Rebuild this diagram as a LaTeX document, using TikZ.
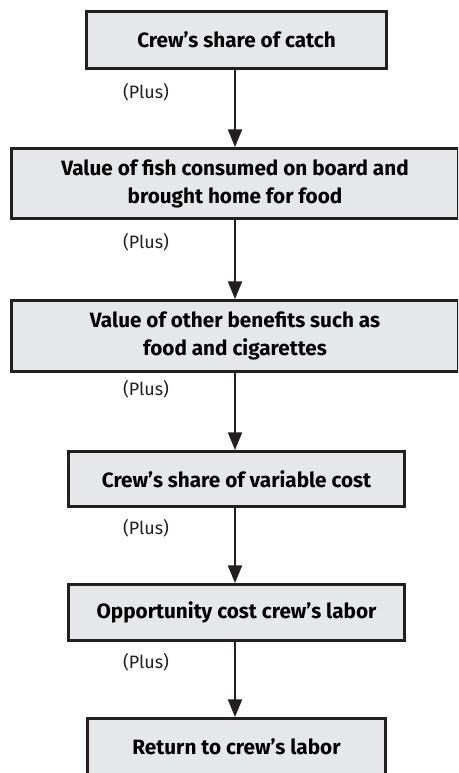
\documentclass[tikz,border=0pt]{standalone}
\usepackage{fontspec}
\setmainfont{Fira Sans}
\definecolor{boxfill}{HTML}{E6E7E8}
\definecolor{ink}{HTML}{231F20}
\tikzset{
  stagebox/.style={draw=ink,fill=boxfill,line width=1.7pt,inner sep=0pt,
    align=center,font=\bfseries\fontsize{11.8}{16}\selectfont},
  plusnote/.style={font=\fontsize{10.2}{12}\selectfont,text=ink},
  flow/.style={draw=ink,line width=0.9pt,-{Triangle[length=10pt,width=8pt]}}
}
\usetikzlibrary{arrows.meta}
\begin{document}
\begin{tikzpicture}[x=0.02cm,y=-0.02cm]
  \useasboundingbox (0,0) rectangle (458,773);
  \clip (0,0) rectangle (458,773);
  % Boxes
  \node[stagebox,minimum width=6cm,minimum height=1.14cm] (catch) at (236.5,40) {Crew’s share of catch};
  \node[stagebox,minimum width=8.94cm,minimum height=1.4cm] (fish) at (235,183.5)
    {Value of fish consumed on board and\\brought home for food};
  \node[stagebox,minimum width=8.94cm,minimum height=1.42cm] (benefits) at (235,336)
    {Value of other benefits such as\\food and cigarettes};
  \node[stagebox,minimum width=6.72cm,minimum height=1.1cm] (varcost) at (236.5,479) {Crew’s share of variable cost};
  \node[stagebox,minimum width=6.72cm,minimum height=1.12cm] (oppcost) at (236.5,612.5) {Opportunity cost crew’s labor};
  \node[stagebox,minimum width=5.96cm,minimum height=1.14cm] (labor) at (236.5,747) {Return to crew’s labor};
  % Arrows
  \draw[flow] (catch.south -| 235,0) -- (fish.north -| 235,0);
  \draw[flow] (fish.south -| 235,0) -- (benefits.north -| 235,0);
  \draw[flow] (benefits.south -| 235,0) -- (varcost.north -| 235,0);
  \draw[flow] (varcost.south -| 235,0) -- (oppcost.north -| 235,0);
  \draw[flow] (oppcost.south -| 235,0) -- (labor.north -| 235,0);
  % (Plus)
  \node[plusnote] (plus1) at (146,92) {(Plus)};
  \node[plusnote] (plus2) at (146,242) {(Plus)};
  \node[plusnote] (plus3) at (146,389) {(Plus)};
  \node[plusnote] (plus4) at (146,528) {(Plus)};
  \node[plusnote] (plus5) at (146,662) {(Plus)};
\end{tikzpicture}
\end{document}
